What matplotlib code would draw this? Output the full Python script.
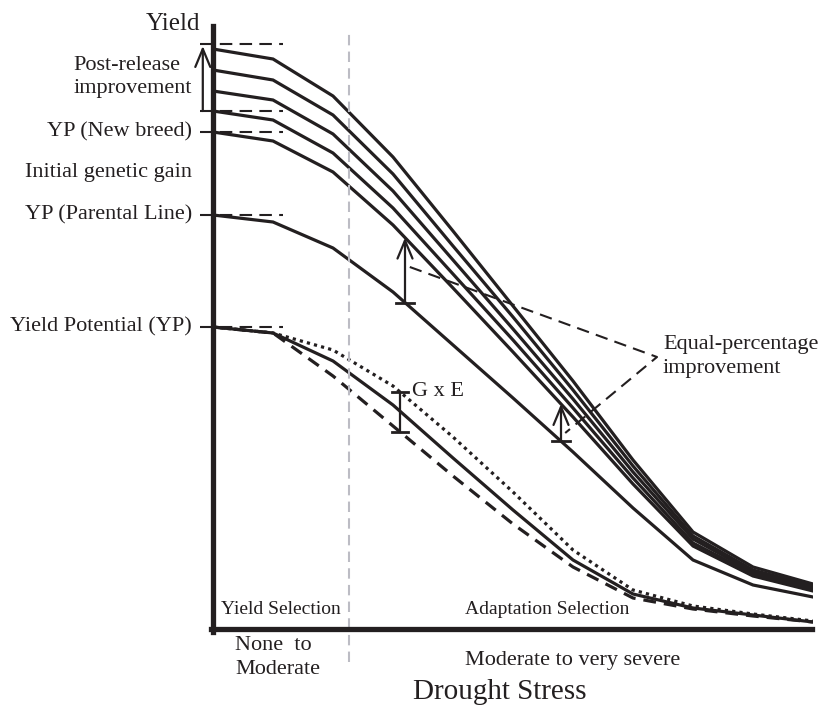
"""Conceptual yield vs drought stress chart (yield potential, G x E, new breeds)."""
import matplotlib.pyplot as plt
import numpy as np

plt.rcParams["font.family"] = ["Liberation Serif", "DejaVu Serif"]

INK = "#231f20"

# drought stress steps along the x axis (no tick labels in the figure)
stress = np.arange(11)

# parental line and the new breeds (equal-percentage improvement over the parent)
parental = [414, 407, 381, 337, 284, 231, 177, 121, 69, 44, 32]
breed_a = [497, 488, 457, 404, 341, 277, 212, 145, 83, 53, 38]
breed_b = [518, 509, 476, 421, 355, 289, 221, 151, 86, 55, 40]
breed_c = [538, 529, 495, 438, 369, 300, 230, 157, 90, 57, 42]
breed_d = [559, 549, 514, 455, 383, 312, 239, 163, 93, 59, 43]
breed_e = [580, 570, 533, 472, 398, 323, 248, 169, 97, 62, 45]

# yield potential line split into three G x E responses
ge_mid = [302, 296, 268, 224, 171, 119, 69, 35, 21, 14, 7]
ge_high = [302, 296, 279, 243, 192, 137, 79, 39, 23, 15, 8]
ge_low = [302, 296, 253, 203, 153, 105, 62, 31, 20, 13, 7]

# reference levels marked on the yield axis
levels = [585, 518, 497, 414, 302]

fig = plt.figure(figsize=(8.2, 7.1), dpi=100)
ax = fig.add_axes([213 / 820, 81 / 710, 600 / 820, 629 / 710])
ax.set_xlim(0, 10)
ax.set_ylim(0, 629)
ax.set_xticks([])
ax.set_yticks([])
for side in ("top", "right"):
    ax.spines[side].set_visible(False)
for side in ("left", "bottom"):
    ax.spines[side].set_linewidth(3.8)
    ax.spines[side].set_color(INK)
ax.spines["left"].set_bounds(-3, 603)
ax.spines["bottom"].set_bounds(-0.03, 9.98)

lw = 2.3
for ys in (breed_a, breed_b, breed_c, breed_d, breed_e, parental, ge_mid):
    ax.plot(stress, ys, color=INK, lw=lw, solid_joinstyle="miter")
ax.plot(stress, ge_high, color=INK, lw=2.3, ls=(0, (1, 1.3)))
ax.plot(stress, ge_low, color=INK, lw=2.3, ls=(0, (4, 2.5)))

# dashed marks at the yield levels
for lv in levels:
    ax.plot([-0.22, 1.17], [lv, lv], color=INK, lw=1.5, ls=(0, (6, 3.5)),
            clip_on=False)

# boundary between yield selection and adaptation selection
ax.plot([2.27, 2.27], [-33, 596], color="#bcbcc4", lw=1.5, ls=(0, (5, 3)),
        clip_on=False)

arrow = dict(arrowstyle="->,head_length=0.65,head_width=0.27", lw=1.6,
             color=INK, shrinkA=0, shrinkB=0, mutation_scale=20)

# post-release improvement arrow on the axis
ax.annotate("", xy=(-0.17, 583), xytext=(-0.17, 518), arrowprops=arrow,
            annotation_clip=False)

# equal-percentage improvement arrows
for xs in (3.2, 5.8):
    base = np.interp(xs, stress, parental)
    tip = np.interp(xs, stress, breed_a)
    ax.annotate("", xy=(xs, tip), xytext=(xs, base), arrowprops=arrow)
    ax.plot([xs - 0.15, xs + 0.15], [base, base], color=INK, lw=2)
ax.plot([3.28, 7.4, 5.87], [362, 272, 196], color=INK, lw=1.5,
        ls=(0, (6, 3.5)))

# G x E range bar
gx = 3.12
top = np.interp(gx, stress, ge_high)
bot = np.interp(gx, stress, ge_low)
ax.plot([gx, gx], [bot, top], color=INK, lw=1.6)
for v in (top, bot):
    ax.plot([gx - 0.13, gx + 0.13], [v, v], color=INK, lw=2)

txt = dict(color=INK, fontsize=16)
ax.text(-0.22, 605, "Yield", ha="right", va="center", color=INK, fontsize=18)
ax.text(-2.33, 564, "Post-release", ha="left", va="center", **txt)
ax.text(-2.33, 540, "improvement", ha="left", va="center", **txt)
ax.text(-0.35, 497, "YP (New breed)", ha="right", va="center", **txt)
ax.text(-0.35, 457, "Initial genetic gain", ha="right", va="center", **txt)
ax.text(-0.35, 414, "YP (Parental Line)", ha="right", va="center", **txt)
ax.text(-0.35, 302, "Yield Potential (YP)", ha="right", va="center", **txt)
ax.text(3.32, 238, "G x E", ha="left", va="center", **txt)
ax.text(7.5, 284, "Equal-percentage", ha="left", va="center", **txt)
ax.text(7.5, 260, "improvement", ha="left", va="center", **txt)
ax.text(0.13, 19, "Yield Selection", ha="left", va="center", color=INK,
        fontsize=14)
ax.text(4.2, 19, "Adaptation Selection", ha="left", va="center", color=INK,
        fontsize=14)
ax.text(0.37, -16, "None  to", ha="left", va="center", **txt)
ax.text(0.37, -41, "Moderate", ha="left", va="center", **txt)
ax.text(4.2, -31, "Moderate to very severe", ha="left", va="center", **txt)
ax.text(3.33, -63, "Drought Stress", ha="left", va="center", color=INK,
        fontsize=21)

fig.savefig("out.png", dpi=100)
